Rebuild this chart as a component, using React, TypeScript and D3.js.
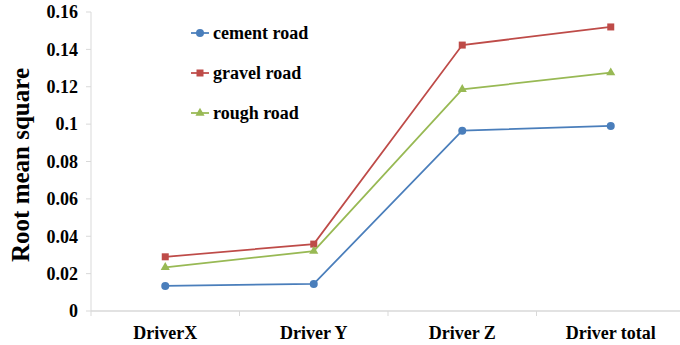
import React from "react";
import * as d3 from "d3";

const categories = ["DriverX", "Driver Y", "Driver Z", "Driver total"];
const cement = [0.0134, 0.0145, 0.0965, 0.099];
const gravel = [0.029, 0.0358, 0.1423, 0.152];
const rough = [0.0234, 0.032, 0.1186, 0.1275];
const yTicks = [0, 0.02, 0.04, 0.06, 0.08, 0.1, 0.12, 0.14, 0.16];
const seriesNames = ["cement road", "gravel road", "rough road"];
const colors = ["#4a7ebb", "#be4b48", "#98b954"];

const W = 680;
const H = 345;
const FONT = "'Liberation Serif', 'Times New Roman', serif";

export default function App() {
  const x = d3.scaleBand<string>().domain(categories).range([91, 685]);
  const y = d3.scaleLinear().domain([0, 0.16]).range([311, 12]);
  const line = d3
    .line<number>()
    .x((_, i) => (x(categories[i]) as number) + x.bandwidth() / 2)
    .y((d) => y(d));
  const series = [cement, gravel, rough];

  const marker = (k: number, cx: number, cy: number, key: string) => {
    if (k === 0) return <circle key={key} cx={cx} cy={cy} r={4} fill={colors[0]} />;
    if (k === 1)
      return <rect key={key} x={cx - 3.5} y={cy - 3.5} width={7} height={7} fill={colors[1]} />;
    const p = d3.symbol(d3.symbolTriangle, 36)();
    return <path key={key} d={p as string} transform={`translate(${cx},${cy})`} fill={colors[2]} />;
  };

  const boundaries = [0, 1, 2, 3, 4].map((i) => 91 + i * x.step());

  return (
    <svg
      width={W}
      height={H}
      style={{ position: "absolute", left: 0, top: 0, background: "#fff" }}
    >
      {/* y axis */}
      <line x1={91} x2={91} y1={y(0.16)} y2={311} stroke="#d9d9d9" strokeWidth={1} />
      {yTicks.map((t) => (
        <g key={t}>
          <line x1={86} x2={91} y1={y(t)} y2={y(t)} stroke="#d9d9d9" />
          <text
            x={78}
            y={y(t)}
            dy="0.35em"
            textAnchor="end"
            fontFamily={FONT}
            fontWeight="bold"
            fontSize={18}
            fill="#000"
          >
            {t === 0 ? "0" : String(+t.toFixed(2))}
          </text>
        </g>
      ))}
      {/* x axis */}
      <line x1={91} x2={685} y1={311} y2={311} stroke="#d9d9d9" strokeWidth={1.5} />
      {boundaries.map((b, i) => (
        <line key={i} x1={b} x2={b} y1={311} y2={316} stroke="#d9d9d9" />
      ))}
      {categories.map((c) => (
        <text
          key={c}
          x={(x(c) as number) + x.bandwidth() / 2}
          y={339}
          textAnchor="middle"
          fontFamily={FONT}
          fontWeight="bold"
          fontSize={18}
          fill="#000"
        >
          {c}
        </text>
      ))}
      <text
        transform={`translate(29,165) rotate(-90)`}
        textAnchor="middle"
        fontFamily={FONT}
        fontWeight="bold"
        fontSize={25}
        fill="#000"
      >
        Root mean square
      </text>
      {/* series */}
      {series.map((s, k) => (
        <g key={k}>
          <path d={line(s) as string} fill="none" stroke={colors[k]} strokeWidth={1.75} />
          {s.map((v, i) =>
            marker(k, (x(categories[i]) as number) + x.bandwidth() / 2, y(v), `${k}-${i}`)
          )}
        </g>
      ))}
      {/* legend */}
      {seriesNames.map((n, k) => {
        const ly = 33 + k * 40;
        return (
          <g key={n}>
            <line x1={191} x2={209} y1={ly} y2={ly} stroke={colors[k]} strokeWidth={1.75} />
            {marker(k, 200, ly, `leg-${k}`)}
            <text
              x={213}
              y={ly}
              dy="0.35em"
              fontFamily={FONT}
              fontWeight="bold"
              fontSize={18}
              fill="#000"
            >
              {n}
            </text>
          </g>
        );
      })}
    </svg>
  );
}
